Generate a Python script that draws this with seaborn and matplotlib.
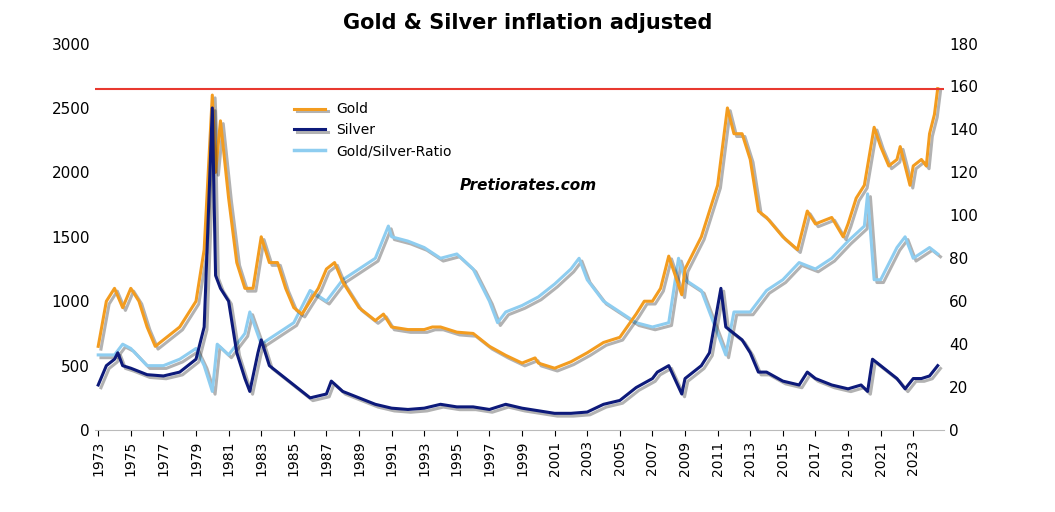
import matplotlib
matplotlib.use("Agg")
import matplotlib.pyplot as plt
import matplotlib.patheffects as pe
import seaborn as sns
import pandas as pd

gold_t = [1973,1973.5,1974,1974.5,1975,1975.5,1976,1976.5,1977,1977.5,1978,1978.5,1979,1979.5,1980,1980.2,1980.5,1981,1981.5,1982,1982.5,1983,1983.5,1984,1984.5,1985,1985.5,1986,1986.5,1987,1987.5,1988,1988.5,1989,1989.5,1990,1990.5,1991,1992,1993,1993.5,1994,1995,1996,1997,1998,1999,1999.8,2000,2001,2002,2003,2004,2005,2006,2006.5,2007,2007.5,2008,2008.8,2009,2010,2010.5,2011,2011.6,2012,2012.5,2013,2013.5,2014,2015,2015.9,2016.5,2017,2018,2018.7,2019,2019.5,2020,2020.6,2021,2021.5,2022,2022.2,2022.8,2023,2023.5,2023.8,2024,2024.3,2024.5]
gold_v = [650,1000,1100,950,1100,1000,800,650,700,750,800,900,1000,1400,2600,2000,2400,1800,1300,1100,1100,1500,1300,1300,1100,950,900,1000,1100,1250,1300,1150,1050,950,900,850,900,800,780,780,800,800,760,750,650,580,520,560,520,480,530,600,680,720,900,1000,1000,1100,1350,1050,1250,1500,1700,1900,2500,2300,2300,2100,1700,1650,1500,1400,1700,1600,1650,1500,1600,1800,1900,2350,2200,2050,2100,2200,1900,2050,2100,2050,2300,2450,2650]
silver_t = [1973,1973.5,1974,1974.2,1974.5,1975,1976,1977,1978,1979,1979.5,1980,1980.2,1980.5,1981,1981.5,1982,1982.3,1982.8,1983,1983.5,1984,1985,1986,1987,1987.3,1988,1989,1990,1991,1992,1993,1994,1995,1996,1997,1998,1999,2000,2001,2002,2003,2004,2005,2006,2007,2007.3,2008,2008.8,2009,2010,2010.5,2011.2,2011.5,2012,2012.5,2013,2013.5,2014,2015,2016,2016.5,2017,2018,2019,2019.8,2020.2,2020.5,2021,2021.5,2022,2022.5,2023,2023.5,2024,2024.5]
silver_v = [350,500,550,600,500,480,430,420,450,550,800,2500,1200,1100,1000,600,400,300,600,700,500,450,350,250,280,380,300,250,200,170,160,170,200,180,180,160,200,170,150,130,130,140,200,230,330,400,450,500,280,400,500,600,1100,800,750,700,600,450,450,380,350,450,400,350,320,350,300,550,500,450,400,320,400,400,420,500]
ratio_t = [1973,1974,1974.5,1975,1976,1977,1978,1979,1979.5,1980,1980.3,1981,1982,1982.3,1983,1984,1985,1986,1987,1988,1989,1990,1990.8,1991,1992,1993,1994,1995,1996,1997,1997.5,1998,1999,2000,2001,2002,2002.5,2003,2004,2005,2006,2007,2008,2008.6,2009,2010,2011,2011.5,2012,2013,2014,2015,2016,2017,2018,2019,2020,2020.2,2020.6,2021,2022,2022.5,2023,2024,2024.5]
ratio_v = [35,35,40,38,30,30,33,38,30,18,40,35,45,55,40,45,50,65,60,70,75,80,95,90,88,85,80,82,75,60,50,55,58,62,68,75,80,70,60,55,50,48,50,80,70,65,45,35,55,55,65,70,78,75,80,88,95,110,70,70,85,90,80,85,82]
years = list(range(1973, 2024, 2))

fig, ax = plt.subplots(figsize=(10.55, 5.12), dpi=100)
fig.subplots_adjust(left=0.09, right=0.895, top=0.915, bottom=0.16)
ax2 = ax.twinx()
sh = [pe.SimpleLineShadow(offset=(2, -2), alpha=0.3), pe.Normal()]
sns.lineplot(x=ratio_t, y=ratio_v, ax=ax2, color="#8ecdf0", lw=2.2, path_effects=sh)
sns.lineplot(x=gold_t, y=gold_v, ax=ax, color="#f39c1f", lw=2.2, path_effects=sh, label="Gold")
sns.lineplot(x=silver_t, y=silver_v, ax=ax, color="#0d1a7a", lw=2.2, path_effects=sh, label="Silver")
ax.plot([], [], color="#8ecdf0", lw=2.5, label="Gold/Silver-Ratio")
ax.set_zorder(ax2.get_zorder() + 1); ax.patch.set_visible(False)
ax.axhline(2650, color="#e8392f", lw=1.5)
ax.set_ylim(0, 3000); ax2.set_ylim(0, 180)
ax.set_xlim(1972.8, 2024.9)
ax.set_yticks(range(0, 3001, 500)); ax2.set_yticks(range(0, 181, 20))
ax.set_xticks(years); ax.set_xticklabels([str(y) for y in years], rotation=90)
for a in (ax, ax2):
    for s in a.spines.values(): s.set_visible(False)
    a.tick_params(length=0, labelsize=11)
ax.tick_params(axis="x", length=4, labelsize=10)
ax.spines["bottom"].set_visible(True); ax.spines["bottom"].set_color("#bbbbbb")
leg = ax.legend(loc="upper left", bbox_to_anchor=(0.22, 0.88), frameon=False, fontsize=10, handlelength=2.2)
ax.text(0.43, 0.62, "Pretiorates.com", transform=ax.transAxes, fontsize=11, fontweight="bold", style="italic")
fig.suptitle("Gold & Silver inflation adjusted", fontsize=15, fontweight="bold", x=0.5, y=0.975)
fig.savefig("out.png", dpi=100)
